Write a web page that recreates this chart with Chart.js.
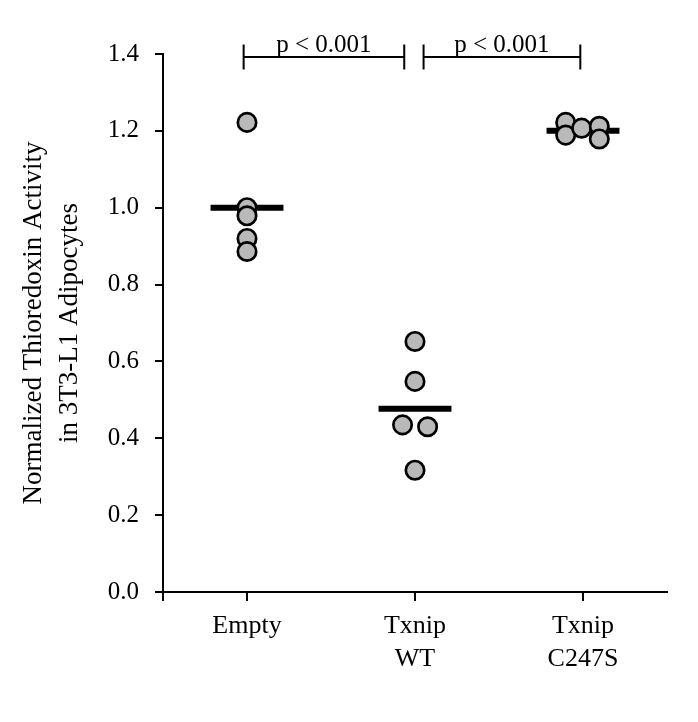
<!DOCTYPE html>
<html>
<head>
<meta charset="utf-8">
<script src="https://cdn.jsdelivr.net/npm/chart.js@4/dist/chart.umd.min.js"></script>
<style>
html,body{margin:0;padding:0;background:#fff;}
#wrap{width:698px;height:722px;position:relative;}
</style>
</head>
<body>
<div id="wrap"><canvas id="c" width="698" height="722"></canvas></div>
<script>
// ---- data ----
const categories = ['Empty', ['Txnip', 'WT'], ['Txnip', 'C247S']];
const emptyValues  = [1.222, 1.000, 0.979, 0.920, 0.886];
const emptyJitter  = [0, 0, 0, 0, 0];
const wtValues     = [0.652, 0.548, 0.435, 0.430, 0.317];
const wtJitter     = [0, 0, -0.074, 0.075, 0];
const c247sValues  = [1.222, 1.189, 1.207, 1.212, 1.179];
const c247sJitter  = [-0.103, -0.103, -0.008, 0.097, 0.097];
const groupMeans   = [1.000, 0.477, 1.200];
const yTickValues  = [0, 0.2, 0.4, 0.6, 0.8, 1.0, 1.2, 1.4];
const xTickValues  = [0.5, 1, 2, 3];
const comparisonFrom   = [0.98, 2.051];
const comparisonTo     = [1.936, 2.984];
const comparisonLabels = ['p < 0.001', 'p < 0.001'];
const comparisonLevel  = 1.392;
const yTitle = ['Normalized Thioredoxin Activity', 'in 3T3-L1 Adipocytes'];

// ---- build datasets ----
const FONT = "'Liberation Serif', 'Times New Roman', serif";
const groups = [
  {v: emptyValues, j: emptyJitter},
  {v: wtValues, j: wtJitter},
  {v: c247sValues, j: c247sJitter}
];
const pointData = [];
groups.forEach((g, gi) => g.v.forEach((val, k) => pointData.push({x: gi + 1 + g.j[k], y: val})));

const meanHalfWidth = 0.217;
const meanSets = groupMeans.map((m, i) => ({
  type: 'line',
  data: [{x: i + 1 - meanHalfWidth, y: m}, {x: i + 1 + meanHalfWidth, y: m}],
  borderColor: '#000',
  borderWidth: 6,
  borderCapStyle: 'butt',
  pointRadius: 0,
  showLine: true,
  fill: false,
  clip: false
}));

const bracketPlugin = {
  id: 'brackets',
  afterDatasetsDraw(chart) {
    const ctx = chart.ctx;
    const xs = chart.scales.x, ys = chart.scales.y;
    const yp = ys.getPixelForValue(comparisonLevel);
    ctx.save();
    ctx.strokeStyle = '#000';
    ctx.lineWidth = 2;
    ctx.fillStyle = '#000';
    ctx.font = '25px ' + FONT;
    ctx.textAlign = 'center';
    ctx.textBaseline = 'alphabetic';
    comparisonFrom.forEach((f, i) => {
      const x1 = xs.getPixelForValue(f), x2 = xs.getPixelForValue(comparisonTo[i]);
      ctx.beginPath();
      ctx.moveTo(x1, yp); ctx.lineTo(x2, yp);
      ctx.moveTo(x1, yp - 12.5); ctx.lineTo(x1, yp + 12.5);
      ctx.moveTo(x2, yp - 12.5); ctx.lineTo(x2, yp + 12.5);
      ctx.stroke();
      ctx.fillText(comparisonLabels[i], (x1 + x2) / 2, yp - 5.5);
    });
    ctx.restore();
  }
};

new Chart(document.getElementById('c'), {
  type: 'scatter',
  data: {
    datasets: [
      {
        data: pointData,
        backgroundColor: '#b9b9b9',
        borderColor: '#000',
        borderWidth: 2.7,
        pointRadius: 9.2,
        pointHoverRadius: 9.2,
        clip: false
      },
      ...meanSets
    ]
  },
  options: {
    responsive: false,
    animation: false,
    events: [],
    layout: {padding: {top: 54, right: 31, left: 0, bottom: 0}},
    plugins: {legend: {display: false}, tooltip: {enabled: false}},
    scales: {
      x: {
        type: 'linear',
        min: 0.5,
        max: 3.5,
        afterBuildTicks(scale) { scale.ticks = xTickValues.map(v => ({value: v})); },
        afterFit(scale) { scale.height = 130; },
        border: {display: true, color: '#000', width: 2},
        grid: {display: true, drawOnChartArea: false, drawTicks: true, tickLength: 9, color: '#000', lineWidth: 2},
        ticks: {
          color: '#000',
          font: {family: FONT, size: 26, lineHeight: 1.27},
          padding: 9,
          maxRotation: 0,
          autoSkip: false,
          callback: (v) => (Number.isInteger(v) ? categories[v - 1] : '')
        }
      },
      y: {
        min: 0,
        max: 1.4,
        afterBuildTicks(scale) { scale.ticks = yTickValues.map(v => ({value: v})); },
        afterFit(scale) { scale.width = 163; },
        border: {display: true, color: '#000', width: 2},
        grid: {display: true, drawOnChartArea: false, drawTicks: true, tickLength: 8, color: '#000', lineWidth: 2},
        ticks: {
          color: '#000',
          font: {family: FONT, size: 25},
          padding: 16,
          callback: (v) => Number(v).toFixed(1)
        },
        title: {
          display: true,
          text: yTitle,
          color: '#000',
          font: {family: FONT, size: 27, lineHeight: 1.333},
          padding: {top: 16, bottom: 0}
        }
      }
    }
  },
  plugins: [bracketPlugin]
});
</script>
</body>
</html>
